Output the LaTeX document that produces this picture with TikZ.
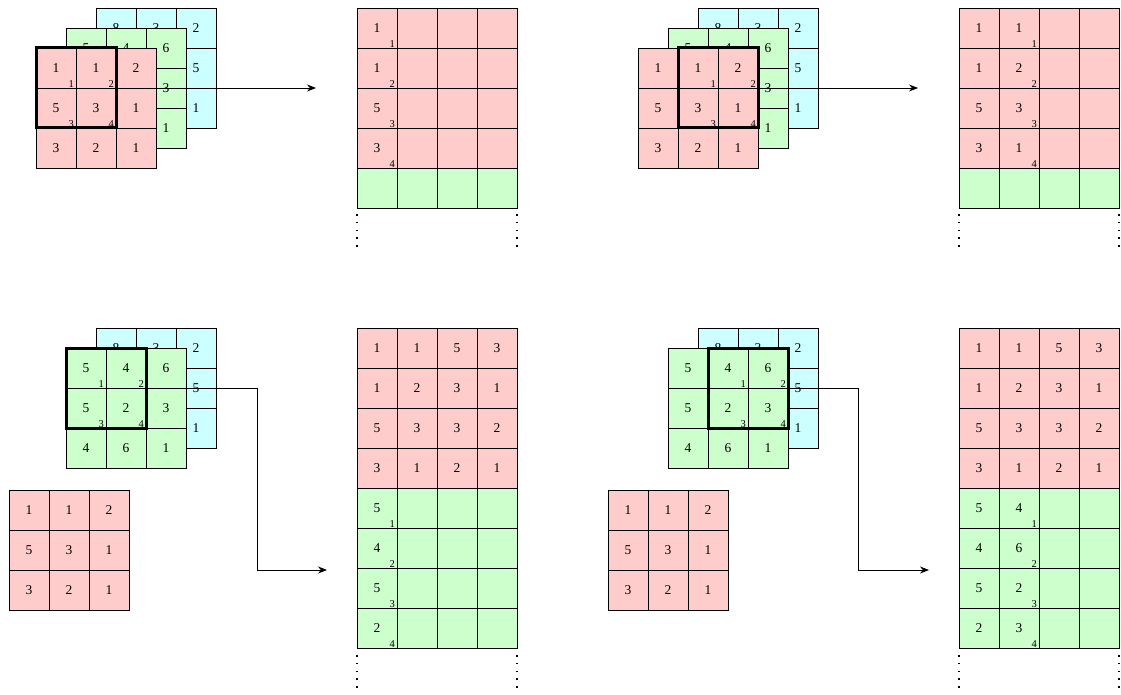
\documentclass[tikz,border=0pt]{standalone}
\usepackage{fontspec}
\setmainfont{Liberation Serif}
\usepackage{tikz}
\usetikzlibrary{arrows.meta,positioning}

\definecolor{cellred}{RGB}{255,204,204}
\definecolor{cellgreen}{RGB}{204,255,204}
\definecolor{cellcyan}{RGB}{204,255,255}

\newcommand{\cellfont}{\fontsize{13.5}{15}\selectfont}
\newcommand{\subfont}{\fontsize{10.5}{12}\selectfont}

% grid of 40pt cells: name, left, top, fill, rows
\newcommand{\cellgrid}[5]{%
  \foreach \row [count=\ri from 0] in {#5} {
    \foreach \val [count=\ci from 0] in \row {
      \node[cell, fill=#4] (#1-\ri-\ci) at ({#2+20+40*\ci},{#3+20+40*\ri}) {\val};
    }
  }%
}

\begin{document}
\begin{tikzpicture}[
x=1pt, y=-1pt,
cell/.style={draw, line width=0.8pt, minimum size=40pt, inner sep=0pt, outer sep=0pt, font=\cellfont},
sub/.style={anchor=south east, inner xsep=2pt, inner ysep=0.5pt, font=\subfont},
window/.style={draw, line width=3pt, minimum size=80pt, inner sep=0pt, outer sep=0pt},
arrow/.style={-{Stealth[length=9pt,width=7pt]}, line width=0.8pt},
dots/.style={line width=1.6pt, dash pattern=on 1.6pt off 6.2pt}
]
\useasboundingbox (0,0) rectangle (1121,695);

% -------- Top left --------
\cellgrid{tlcyn}{96}{8}{cellcyan}{{8,3,2},{{},{},5},{{},{},1}}
\cellgrid{tlgrn}{66}{28}{cellgreen}{{5,4,6},{{},{},3},{{},{},1}}
\cellgrid{tlred}{36}{48}{cellred}{{1,1,2},{5,3,1},{3,2,1}}
\foreach \k/\ri/\ci in {1/0/0,2/0/1,3/1/0,4/1/1}
  \node[sub] (tlsub\k) at (tlred-\ri-\ci.south east) {\k};
\node[window] (tlwin) at (tlred-0-0.south east) {};

\cellgrid{tlcol}{357}{8}{cellred}{{1,{},{},{}},{1,{},{},{}},{5,{},{},{}},{3,{},{},{}}}
\cellgrid{tlcolg}{357}{168}{cellgreen}{{{},{},{},{}}}
\foreach \k [count=\ri from 0] in {1,...,4}
  \node[sub] (tlcsub\k) at (tlcol-\ri-0.south east) {\k};
\draw[dots] (357,214) -- (357,250);
\draw[dots] (517,214) -- (517,250);

\coordinate (tlend) at (316,88);
\draw[arrow] (tlwin.east) -- (tlend);

% -------- Top right --------
\cellgrid{trcyn}{698}{8}{cellcyan}{{8,3,2},{{},{},5},{{},{},1}}
\cellgrid{trgrn}{668}{28}{cellgreen}{{5,4,6},{{},{},3},{{},{},1}}
\cellgrid{trred}{638}{48}{cellred}{{1,1,2},{5,3,1},{3,2,1}}
\foreach \k/\ri/\ci in {1/0/1,2/0/2,3/1/1,4/1/2}
  \node[sub] (trsub\k) at (trred-\ri-\ci.south east) {\k};
\node[window] (trwin) at (trred-0-1.south east) {};

\cellgrid{trcol}{959}{8}{cellred}{{1,1,{},{}},{1,2,{},{}},{5,3,{},{}},{3,1,{},{}}}
\cellgrid{trcolg}{959}{168}{cellgreen}{{{},{},{},{}}}
\foreach \k [count=\ri from 0] in {1,...,4}
  \node[sub] (trcsub\k) at (trcol-\ri-1.south east) {\k};
\draw[dots] (959,214) -- (959,250);
\draw[dots] (1119,214) -- (1119,250);

\coordinate (trend) at (918,88);
\draw[arrow] (trwin.east) -- (trend);

% -------- Bottom left --------
\cellgrid{blcyn}{96}{328}{cellcyan}{{8,3,2},{{},{},5},{{},{},1}}
\cellgrid{blgrn}{66}{348}{cellgreen}{{5,4,6},{5,2,3},{4,6,1}}
\foreach \k/\ri/\ci in {1/0/0,2/0/1,3/1/0,4/1/1}
  \node[sub] (blsub\k) at (blgrn-\ri-\ci.south east) {\k};
\node[window] (blwin) at (blgrn-0-0.south east) {};
\cellgrid{blred}{9}{490}{cellred}{{1,1,2},{5,3,1},{3,2,1}}

\cellgrid{blcol}{357}{328}{cellred}{{1,1,5,3},{1,2,3,1},{5,3,3,2},{3,1,2,1}}
\cellgrid{blcolg}{357}{488}{cellgreen}{{5,{},{},{}},{4,{},{},{}},{5,{},{},{}},{2,{},{},{}}}
\foreach \k [count=\ri from 0] in {1,...,4}
  \node[sub] (blcsub\k) at (blcolg-\ri-0.south east) {\k};
\draw[dots] (357,655) -- (357,693);
\draw[dots] (517,655) -- (517,693);

\coordinate (blend) at (327,570);
\draw[arrow] (blwin.east) -- ++(111,0) |- (blend);

% -------- Bottom right --------
\cellgrid{brcyn}{698}{328}{cellcyan}{{8,3,2},{{},{},5},{{},{},1}}
\cellgrid{brgrn}{668}{348}{cellgreen}{{5,4,6},{5,2,3},{4,6,1}}
\foreach \k/\ri/\ci in {1/0/1,2/0/2,3/1/1,4/1/2}
  \node[sub] (brsub\k) at (brgrn-\ri-\ci.south east) {\k};
\node[window] (brwin) at (brgrn-0-1.south east) {};
\cellgrid{brred}{608}{490}{cellred}{{1,1,2},{5,3,1},{3,2,1}}

\cellgrid{brcol}{959}{328}{cellred}{{1,1,5,3},{1,2,3,1},{5,3,3,2},{3,1,2,1}}
\cellgrid{brcolg}{959}{488}{cellgreen}{{5,4,{},{}},{4,6,{},{}},{5,2,{},{}},{2,3,{},{}}}
\foreach \k [count=\ri from 0] in {1,...,4}
  \node[sub] (brcsub\k) at (brcolg-\ri-1.south east) {\k};
\draw[dots] (959,655) -- (959,693);
\draw[dots] (1119,655) -- (1119,693);

\coordinate (brend) at (929,570);
\draw[arrow] (brwin.east) -- ++(70,0) |- (brend);

\end{tikzpicture}
\end{document}
